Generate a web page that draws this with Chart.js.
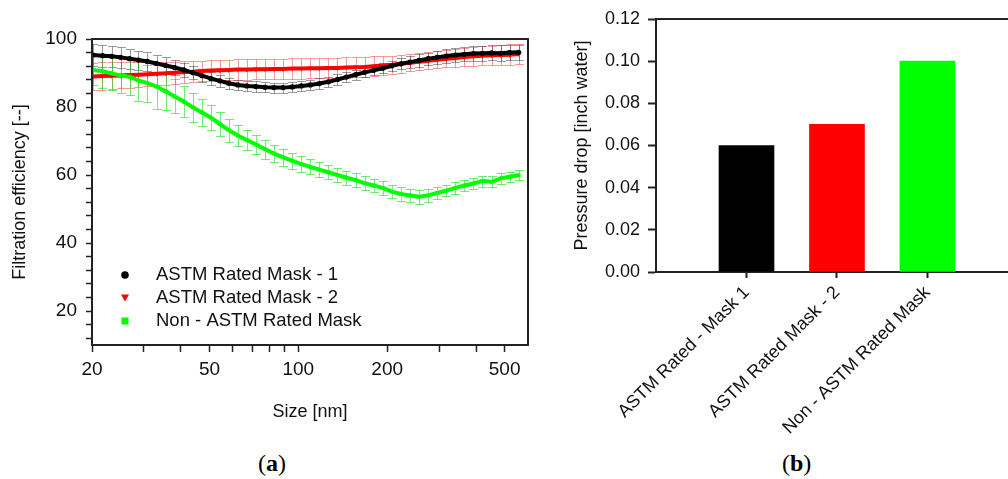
<!DOCTYPE html>
<html><head><meta charset="utf-8">
<script src="https://cdn.jsdelivr.net/npm/chart.js@4.4.1/dist/chart.umd.min.js"></script>
<style>
html,body{margin:0;padding:0;background:#fff;width:1008px;height:479px;overflow:hidden;}
#ca{position:absolute;left:0;top:0;}
#cb{position:absolute;left:540px;top:0;}
.cap{position:absolute;top:449px;font-family:"Liberation Serif","DejaVu Serif",serif;font-size:24px;color:#000;line-height:28px;}
</style></head>
<body>
<canvas id="ca" width="540" height="440"></canvas>
<canvas id="cb" width="468" height="440"></canvas>
<div class="cap" style="left:258px">(<b>a</b>)</div>
<div class="cap" style="left:782px">(<b>b</b>)</div>
<script>
// ---------- data: panel (a) ----------
const sizes = [20.2,21.7,23.3,25.0,26.8,28.7,30.8,33.1,35.5,38.1,
  40.9,43.9,47.1,50.5,54.2,58.1,62.4,66.9,71.8,77.1,
  82.7,88.8,95.3,102.3,109.8,117.8,126.4,135.7,145.6,156.3,
  167.7,180.0,193.2,207.4,222.6,238.9,256.4,275.2,295.3,317.0,
  340.2,365.1,391.9,420.6,451.4,484.5,520.0,558.1];
const mask1 = [95.3,95.1,94.9,94.6,94.2,93.8,93.4,92.8,92.2,91.6,
  90.9,90.1,89.2,88.4,87.7,87.0,86.5,86.2,86.0,85.8,
  85.7,85.7,85.9,86.2,86.5,86.9,87.4,88.1,88.8,89.5,
  90.2,90.8,91.4,92.1,92.7,93.2,93.7,94.2,94.6,95.0,
  95.3,95.5,95.7,95.8,95.9,95.8,96.0,96.1];
const mask1Err = [3.2,3.2,3.1,3.0,3.0,2.8,2.7,2.6,2.5,2.3,
  2.1,2.0,1.9,1.8,1.7,1.6,1.5,1.5,1.5,1.5,
  1.5,1.5,1.5,1.5,1.5,1.5,1.5,1.5,1.5,1.5,
  1.5,1.5,1.5,1.5,1.6,1.7,1.8,1.8,1.9,2.0,
  2.0,2.1,2.2,2.2,2.2,2.3,2.3,2.2];
const mask2 = [89.0,89.1,89.2,89.3,89.4,89.5,89.6,89.8,89.9,90.1,
  90.3,90.4,90.6,90.7,90.8,90.9,91.0,91.0,91.1,91.1,
  91.2,91.2,91.3,91.3,91.4,91.4,91.5,91.5,91.6,91.7,
  91.8,92.0,92.2,92.4,92.7,93.0,93.3,93.6,93.9,94.2,
  94.4,94.7,94.9,95.1,95.2,95.3,95.4,95.6];
const mask2Err = [4.0,4.0,3.9,3.8,3.7,3.6,3.5,3.4,3.3,3.2,
  3.1,3.0,3.0,3.0,3.0,3.0,3.0,3.0,3.0,3.0,
  3.0,3.0,3.0,3.0,3.0,3.0,3.0,3.0,3.0,3.0,
  3.0,2.9,2.8,2.7,2.6,2.5,2.5,2.5,2.5,2.5,
  2.6,2.6,2.7,2.8,2.8,2.9,3.0,3.0];
const nonAstm = [90.9,90.5,89.9,89.3,88.9,87.8,87.0,86.0,84.6,83.1,
  81.6,79.9,78.4,76.9,75.0,73.2,71.6,70.3,69.0,67.6,
  66.3,65.2,64.2,63.2,62.4,61.6,60.8,60.0,59.2,58.5,
  57.6,56.9,56.2,55.1,54.4,54.0,53.6,54.0,54.7,55.4,
  56.2,56.9,57.5,58.2,58.0,59.0,59.5,59.9];
const nonAstmErr = [4.5,4.8,5.0,5.2,5.5,6.0,5.5,6.5,5.5,5.0,
  4.5,4.2,4.0,3.8,3.6,3.4,3.2,3.0,2.8,2.8,
  2.6,2.5,2.4,2.3,2.2,2.2,2.1,2.0,2.0,2.0,
  2.0,2.0,2.0,2.0,2.0,2.0,2.0,1.8,1.8,1.7,
  1.7,1.6,1.6,1.6,1.6,1.5,1.5,1.5];
const seriesNames = ['ASTM Rated Mask - 1','ASTM Rated Mask - 2','Non - ASTM Rated Mask'];
const xTickValues = [20,30,40,50,60,70,80,90,100,200,300,400,500];
const xLabelledTicks = [20,50,100,200,500];
const yTickValues = [12,16,20,24,28,32,36,40,44,48,52,56,60,64,68,72,76,80,84,88,92,96,100];
const yLabelledTicks = [20,40,60,80,100];

// ---------- data: panel (b) ----------
const barCategories = ['ASTM Rated - Mask 1','ASTM Rated Mask - 2','Non - ASTM Rated Mask'];
const barPositions = [1,2,3];
const pressureDrop = [0.06,0.07,0.10];
const pressureTicks = [0,0.02,0.04,0.06,0.08,0.10,0.12];

const FONT = '"Liberation Sans", Arial, sans-serif';
const INK = '#111';
const AXIS = '#222';

function pts(vals){ return sizes.map((s,i)=>({x:s,y:vals[i]})); }

const errorBars = {
  id:'errorBars',
  beforeDatasetsDraw(chart){
    const ctx = chart.ctx, ys = chart.scales.y, a = chart.chartArea;
    ctx.save();
    ctx.beginPath(); ctx.rect(a.left,a.top,a.right-a.left,a.bottom-a.top); ctx.clip();
    const orderDraw = [1,0,2];
    orderDraw.forEach(di=>{
      const ds = chart.data.datasets[di];
      const meta = chart.getDatasetMeta(di);
      ctx.strokeStyle = ds.errColor; ctx.lineWidth = 1;
      meta.data.forEach((pt,i)=>{
        const v = ds.data[i].y, e = ds.err[i];
        const yt = Math.round(ys.getPixelForValue(v+e))+0.5, yb = Math.round(ys.getPixelForValue(v-e))+0.5;
        const x = Math.round(pt.x)+0.5, w = 4.5;
        ctx.beginPath();
        ctx.moveTo(x,yt); ctx.lineTo(x,yb);
        ctx.moveTo(x-w,yt); ctx.lineTo(x+w,yt);
        ctx.moveTo(x-w,yb); ctx.lineTo(x+w,yb);
        ctx.stroke();
      });
    });
    ctx.restore();
  }
};

const frameA = {
  id:'frameA',
  afterDatasetsDraw(chart){
    const {ctx, chartArea:a} = chart;
    ctx.save(); ctx.strokeStyle = AXIS; ctx.lineWidth = 2;
    ctx.strokeRect(a.left, a.top, a.right-a.left, a.bottom-a.top);
    ctx.restore();
  }
};

const insideLegend = {
  id:'insideLegend',
  afterDraw(chart){
    const {ctx, chartArea:a} = chart;
    ctx.save();
    ctx.font = '18.5px ' + FONT;
    ctx.textBaseline = 'middle';
    chart.data.datasets.forEach((ds,i)=>{
      const yy = a.bottom - 70 + i*23;
      const mx = a.left + 33;
      ctx.fillStyle = ds.borderColor;
      ctx.beginPath();
      if (ds.pointStyle === 'circle') { ctx.arc(mx,yy,3.8,0,Math.PI*2); }
      else if (ds.pointStyle === 'triangle') { ctx.moveTo(mx-4,yy-3.5); ctx.lineTo(mx+4,yy-3.5); ctx.lineTo(mx,yy+3.5); ctx.closePath(); }
      else { ctx.rect(mx-3.5,yy-3.5,7,7); }
      ctx.fill();
      ctx.fillStyle = INK;
      ctx.fillText(ds.label, a.left + 64, yy);
    });
    ctx.restore();
  }
};

new Chart(document.getElementById('ca'), {
  type:'line',
  data:{ datasets:[
    {label:seriesNames[0], data:pts(mask1), err:mask1Err, errColor:'rgba(60,60,60,0.5)',
     borderColor:'#000', backgroundColor:'#000', pointStyle:'circle', pointRadius:2.6, pointBorderWidth:0, borderWidth:4, order:1},
    {label:seriesNames[1], data:pts(mask2), err:mask2Err, errColor:'rgba(255,50,50,0.5)',
     borderColor:'#ff0000', backgroundColor:'#ff0000', pointStyle:'triangle', pointRotation:180, pointRadius:3, pointBorderWidth:0, borderWidth:4, order:2},
    {label:seriesNames[2], data:pts(nonAstm), err:nonAstmErr, errColor:'rgba(0,220,0,0.55)',
     borderColor:'#00ff00', backgroundColor:'#00ff00', pointStyle:'rect', pointRadius:2.6, pointBorderWidth:0, borderWidth:4, order:0}
  ]},
  options:{
    responsive:false, animation:false,
    layout:{padding:{top:39,right:12,left:0,bottom:0}},
    plugins:{legend:{display:false}, tooltip:{enabled:false}},
    elements:{line:{tension:0}},
    scales:{
      x:{type:'logarithmic', min:20, max:600,
        afterBuildTicks:s=>{ s.ticks = xTickValues.map(v=>({value:v})); },
        afterFit:s=>{ s.height = 95; },
        ticks:{autoSkip:false, maxRotation:0, minRotation:0, padding:6, color:INK, font:{family:FONT,size:19},
          callback:v=> xLabelledTicks.includes(v) ? String(v) : ''},
        grid:{display:true, drawOnChartArea:false, drawTicks:true, tickLength:7, tickWidth:1.5, tickColor:AXIS},
        border:{display:false},
        title:{display:true, text:'Size [nm]', color:INK, font:{family:FONT,size:18}, padding:{top:0,bottom:17}}
      },
      y:{type:'linear', min:10, max:100,
        afterBuildTicks:s=>{ s.ticks = yTickValues.map(v=>({value:v})); },
        afterFit:s=>{ s.width = 92; },
        ticks:{autoSkip:false, padding:9, color:INK, font:{family:FONT,size:19},
          callback:v=> yLabelledTicks.includes(v) ? String(v) : ''},
        grid:{display:true, drawOnChartArea:false, drawTicks:true, tickLength:6, tickWidth:1.5, tickColor:AXIS},
        border:{display:false},
        title:{display:true, text:'Filtration efficiency [--]', color:INK, font:{family:FONT,size:18}, padding:{top:9,bottom:0}}
      }
    }
  },
  plugins:[errorBars, frameA, insideLegend]
});

const topLine = {
  id:'topLine',
  afterDatasetsDraw(chart){
    const {ctx, chartArea:a} = chart;
    ctx.save(); ctx.strokeStyle = AXIS; ctx.lineWidth = 2;
    ctx.beginPath(); ctx.moveTo(a.left, a.top); ctx.lineTo(a.right+2, a.top); ctx.stroke();
    ctx.restore();
  }
};

new Chart(document.getElementById('cb'), {
  type:'bar',
  data:{ datasets:[{
    data: barPositions.map((p,i)=>({x:p, y:pressureDrop[i]})),
    backgroundColor:['#000000','#ff0000','#00ff00'],
    barThickness:55
  }]},
  options:{
    responsive:false, animation:false,
    layout:{padding:{top:19,right:0,left:0,bottom:0}},
    plugins:{legend:{display:false}, tooltip:{enabled:false}},
    scales:{
      x:{type:'linear', min:0, max:3.89, offset:false,
        afterBuildTicks:s=>{ s.ticks = barPositions.map(v=>({value:v})); },
        afterFit:s=>{ s.height = 168; },
        ticks:{autoSkip:false, minRotation:45, maxRotation:45, padding:4, color:INK, font:{family:FONT,size:18},
          callback:v=> barCategories[barPositions.indexOf(Math.round(v))] },
        grid:{display:true, offset:false, drawOnChartArea:false, drawTicks:true, tickLength:6, tickWidth:2, tickColor:AXIS},
        border:{display:true, color:AXIS, width:2}
      },
      y:{type:'linear', min:0, max:0.12,
        afterBuildTicks:s=>{ s.ticks = pressureTicks.map(v=>({value:v})); },
        afterFit:s=>{ s.width = 116; },
        ticks:{padding:8, color:INK, font:{family:FONT,size:18}, callback:v=> Number(v).toFixed(2)},
        grid:{display:true, drawOnChartArea:false, drawTicks:true, tickLength:8, tickWidth:2, tickColor:AXIS},
        border:{display:true, color:AXIS, width:2},
        title:{display:true, text:'Pressure drop [inch water]', color:INK, font:{family:FONT,size:18}, padding:{top:31,bottom:0}}
      }
    }
  },
  plugins:[topLine]
});
</script>
</body></html>
